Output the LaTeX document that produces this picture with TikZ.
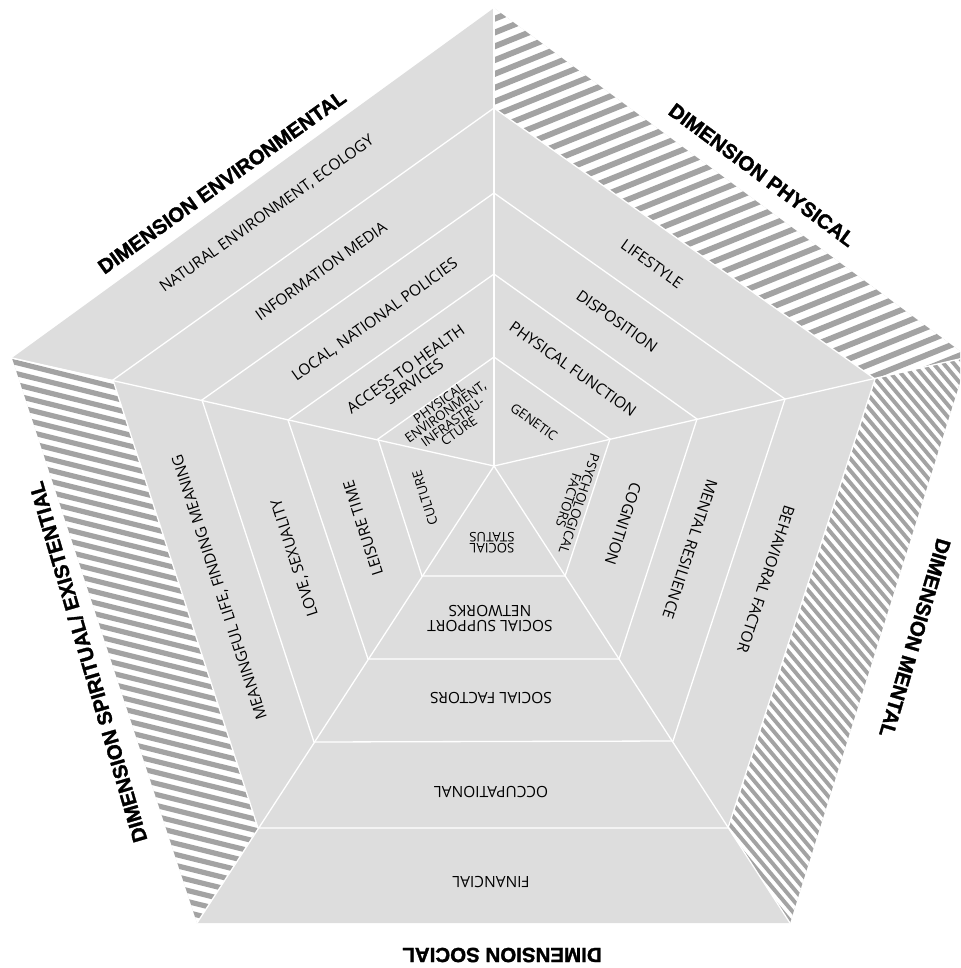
\documentclass[tikz,border=0pt]{standalone}
\usepackage{fontspec}
\newfontfamily\OSfam{Open Sans}
\newfontfamily\dimfam{Liberation Sans}[BoldFeatures={FakeBold=1.5}]
\newcommand\labsize{\OSfam\fontsize{15.5}{15}\selectfont}
\newcommand\smallsize{\OSfam\fontsize{13.2}{11}\selectfont}
\newcommand\dimsize{\dimfam\bfseries\fontsize{20.5}{22}\selectfont}
\definecolor{bandgray}{HTML}{DDDDDD}
\definecolor{stripegray}{HTML}{A3A3A3}
\tikzset{
  lab/.style={font=\labsize, text=black, align=center, inner sep=0pt},
  smalllab/.style={font=\smallsize, text=black, align=center, inner sep=0pt},
  dimlab/.style={font=\dimsize, text=black, inner sep=0pt},
  sepline/.style={draw=white, line width=1.3pt, line join=miter},
  stripe/.style={draw=stripegray, line width=#1},
}
\begin{document}
\begin{tikzpicture}[x=1pt,y=-1pt]
\useasboundingbox (0,0) rectangle (960,968);
\clip (0,0) rectangle (960,968);
% centre and ring vertices
\coordinate (C) at (494,466);
\coordinate (O1) at (494,8);   \coordinate (O2) at (968,357);
\coordinate (O3) at (790,923); \coordinate (O4) at (197,923);
\coordinate (O5) at (12,358);
\coordinate (A1) at (494,108); \coordinate (A2) at (875,379);
\coordinate (A3) at (728,828); \coordinate (A4) at (258,828);
\coordinate (A5) at (113,380);
\coordinate (B1) at (494,193); \coordinate (B2) at (785,399);
\coordinate (B3) at (673,741); \coordinate (B4) at (314,742);
\coordinate (B5) at (202,400);
\coordinate (D1) at (494,274); \coordinate (D2) at (697,419);
\coordinate (D3) at (619,659); \coordinate (D4) at (368,659);
\coordinate (D5) at (288,420);
\coordinate (E1) at (494,357); \coordinate (E2) at (610,439);
\coordinate (E3) at (565,576); \coordinate (E4) at (422,576);
\coordinate (E5) at (378,439);

% base fill
\fill[bandgray] (O1) -- (O2) -- (O3) -- (O4) -- (O5) -- cycle;

% hatched band: physical
\begin{scope}
  \clip (O1) -- (O2) -- (A2) -- (A1) -- cycle;
  \fill[white] (O1) -- (O2) -- (A2) -- (A1) -- cycle;
  \begin{scope}[shift={(720,190)}, rotate=22]
    \foreach \k in {-35,...,35} \draw[stripe=5.8pt] (-450,\k*12.8) -- (450,\k*12.8);
  \end{scope}
\end{scope}
% hatched band: mental
\begin{scope}
  \clip (O2) -- (O3) -- (A3) -- (A2) -- cycle;
  \fill[white] (O2) -- (O3) -- (A3) -- (A2) -- cycle;
  \begin{scope}[shift={(860,640)}, rotate=-50]
    \foreach \k in {-60,...,60} \draw[stripe=3.9pt] (-450,\k*7.8) -- (450,\k*7.8);
  \end{scope}
\end{scope}
% hatched band: spiritual
\begin{scope}
  \clip (O4) -- (O5) -- (A5) -- (A4) -- cycle;
  \fill[white] (O4) -- (O5) -- (A5) -- (A4) -- cycle;
  \begin{scope}[shift={(120,620)}, rotate=-14]
    \foreach \k in {-45,...,45} \draw[stripe=5.2pt] (-450,\k*10.7) -- (450,\k*10.7);
  \end{scope}
\end{scope}

% separating lines
\draw[sepline] (A1) -- (A2) -- (A3) -- (A4) -- (A5) -- cycle;
\draw[sepline] (B1) -- (B2) -- (B3) -- (B4) -- (B5) -- cycle;
\draw[sepline] (D1) -- (D2) -- (D3) -- (D4) -- (D5) -- cycle;
\draw[sepline] (E1) -- (E2) -- (E3) -- (E4) -- (E5) -- cycle;
\draw[sepline] (C) -- (O1);
\draw[sepline] (C) -- (O2);
\draw[sepline] (C) -- (O3);
\draw[sepline] (C) -- (O4);
\draw[sepline] (C) -- (O5);

% environmental sector
\node[lab, rotate=35.5] (natenv) at (267,214) {NATURAL ENVIRONMENT, ECOLOGY};
\node[lab, rotate=35.5] (infomed) at (321,271) {INFORMATION MEDIA};
\node[lab, rotate=35.5] (policies) at (375,320) {LOCAL, NATIONAL POLICIES};
\node[lab, rotate=35.5] (access) at (410,375) {ACCESS TO HEALTH\\SERVICES};
\node[smalllab, rotate=35.5] (physenv) at (449,417) {PHYSICAL\\ENVIRONMENT,\\INFRASTRU-\\CTURE};
% physical sector
\node[lab, rotate=-35.4] (lifestyle) at (652,264) {LIFESTYLE};
\node[lab, rotate=-35.4] (dispos) at (617,321) {DISPOSITION};
\node[lab, rotate=-35.4] (physfun) at (573,369) {PHYSICAL FUNCTION};
\node[smalllab, rotate=-35.4] (genetic) at (534,422) {GENETIC};
% mental sector
\node[lab, rotate=-108.1] (behav) at (766,579) {BEHAVIORAL FACTOR};
\node[lab, rotate=-108.1] (resil) at (690,549) {MENTAL RESILIENCE};
\node[lab, rotate=-108.1] (cogn) at (623,524) {COGNITION};
\node[smalllab, rotate=-108.1] (psych) at (574,502) {PSYCHOLOGICAL\\FACTORS};
% social sector
\node[lab, rotate=180] (financial) at (491,882) {FINANCIAL};
\node[lab, rotate=180] (occup) at (491,792) {OCCUPATIONAL};
\node[lab, rotate=180] (socfac) at (491,698) {SOCIAL FACTORS};
\node[lab, rotate=180] (socsup) at (490,619) {SOCIAL SUPPORT\\NETWORKS};
\node[smalllab, rotate=180] (socstat) at (492,543) {SOCIAL\\STATUS};
% spiritual sector
\node[lab, rotate=107.9] (meaning) at (220,587) {MEANINGFUL LIFE, FINDING MEANING};
\node[lab, rotate=107.9] (love) at (295,558) {LOVE, SEXUALITY};
\node[lab, rotate=107.9] (leisure) at (363,528) {LEISURE TIME};
\node[smalllab, rotate=107.9] (culture) at (425,498) {CULTURE};

% dimension titles
\node[dimlab, rotate=35.6] (dimenv) at (222,182) {DIMENSION ENVIRONMENTAL};
\node[dimlab, rotate=-36.5] (dimphys) at (762,175) {DIMENSION PHYSICAL};
\node[dimlab, rotate=-106.5] (dimment) at (915,638) {DIMENSION MENTAL};
\node[dimlab, rotate=180] (dimsoc) at (502,955) {DIMENSION SOCIAL};
\node[dimlab, rotate=106.3] (dimspir) at (88,662) {DIMENSION SPIRITUAL/ EXISTENTIAL};
\end{tikzpicture}
\end{document}
